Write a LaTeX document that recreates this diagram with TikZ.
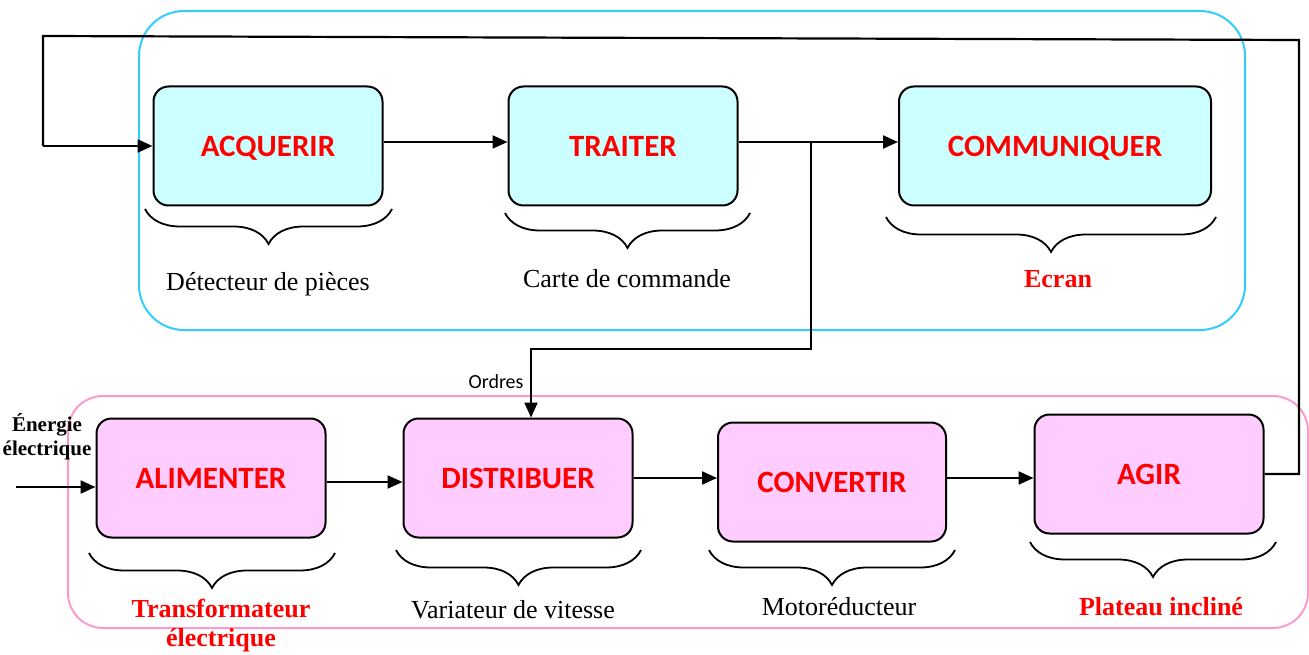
\documentclass[tikz,border=0pt]{standalone}
\usepackage{fontspec}
\setmainfont{Liberation Serif}
\newfontfamily\calibri{Carlito}
\usetikzlibrary{arrows.meta,decorations.pathreplacing}

\definecolor{bleucadre}{HTML}{33CCFF}
\definecolor{rosecadre}{HTML}{FF99CC}
\definecolor{cyanboite}{HTML}{CCFFFF}
\definecolor{roseboite}{HTML}{FFCCFF}

\begin{document}
\begin{tikzpicture}[x=1pt,y=-1pt,
    fonction/.style={draw,line width=2pt,rounded corners=15pt,minimum width=229pt,minimum height=119pt,
        font=\calibri\bfseries\fontsize{31}{31}\selectfont,text=red,text depth=0pt},
    info/.style={fonction,fill=cyanboite},
    energie/.style={fonction,fill=roseboite},
    fleche/.style={line width=2.2pt,-{Triangle[length=15pt,width=13pt]}},
    trait/.style={line width=2.2pt},
    accolade/.style={line width=1.8pt,decorate,decoration={brace,amplitude=35pt}},
    legende/.style={font=\fontsize{26}{26}\selectfont},
    legrouge/.style={font=\bfseries\fontsize{26}{29}\selectfont,text=red,align=center}]
    \useasboundingbox (0,0) rectangle (1309,655);
    % cadres
    \draw[bleucadre,line width=2pt,rounded corners=45pt] (139,11) rectangle (1245,330);
    \draw[rosecadre,line width=2pt,rounded corners=35pt] (68,396) rectangle (1308,628);
    % chaine d'information
    \node[info] (acq) at (268,146) {ACQUERIR};
    \node[info] (trait) at (623,146) {TRAITER};
    \node[info,minimum width=312pt] (comm) at (1055,146) {COMMUNIQUER};
    % chaine d'energie
    \node[energie] (alim) at (211,478) {ALIMENTER};
    \node[energie] (distr) at (518,478) {DISTRIBUER};
    \node[energie,minimum width=228pt] (conv) at (832,482) {CONVERTIR};
    \node[energie] (agir) at (1149,474) {AGIR};
    % accolades
    \draw[accolade] (392,209) -- (145,209);
    \draw[accolade] (750,213) -- (505,213);
    \draw[accolade] (1216,217) -- (886,217);
    \draw[accolade] (335,553) -- (89,553);
    \draw[accolade] (641,550) -- (396,550);
    \draw[accolade] (955,550) -- (709,550);
    \draw[accolade] (1276,542) -- (1030,542);
    % legendes
    \node[legende] (detect) at (268,284) {Détecteur de pièces};
    \node[legende] (carte) at (627,279) {Carte de commande};
    \node[legrouge] (ecran) at (1058,279) {Ecran};
    \node[legrouge] (transfo) at (221,626) {Transformateur\\électrique};
    \node[legende] (variat) at (513,610) {Variateur de vitesse};
    \node[legende] (motor) at (839,607) {Motoréducteur};
    \node[legrouge] (plateau) at (1161,607) {Plateau incliné};
    \node[font=\bfseries\fontsize{21}{24}\selectfont,align=center] (nrj) at (47,437) {Énergie\\électrique};
    \node[font=\calibri\fontsize{20}{20}\selectfont,anchor=south east] (ordres) at (527,392) {Ordres};
    % liaisons
    \coordinate (entree) at (16,487);
    \coordinate (bif) at (811,142);
    \coordinate (desc) at (531,349);
    \coordinate (retourD) at (1299,40);
    \coordinate (retourG) at (43,36);
    \draw[fleche] ([yshift=4pt]acq.east) -- ([yshift=4pt]trait.west);
    \draw[fleche] ([yshift=4pt]trait.east) -- ([yshift=4pt]comm.west);
    \draw[fleche] (bif) |- (desc) -- (desc |- distr.north);
    \draw[fleche] (entree) -- (entree -| alim.west);
    \draw[fleche] ([yshift=-4pt]alim.east) -- ([yshift=-4pt]distr.west);
    \draw[fleche] (distr.east) -- (distr.east -| conv.west);
    \draw[fleche] ([yshift=4pt]conv.east) -- ([yshift=4pt]conv.east -| agir.west);
    \draw[trait] (agir.east) -| (retourD) -- (retourG) -- (retourG |- acq.west);
    \draw[fleche] (retourG |- acq.west) -- (acq.west);
\end{tikzpicture}
\end{document}
